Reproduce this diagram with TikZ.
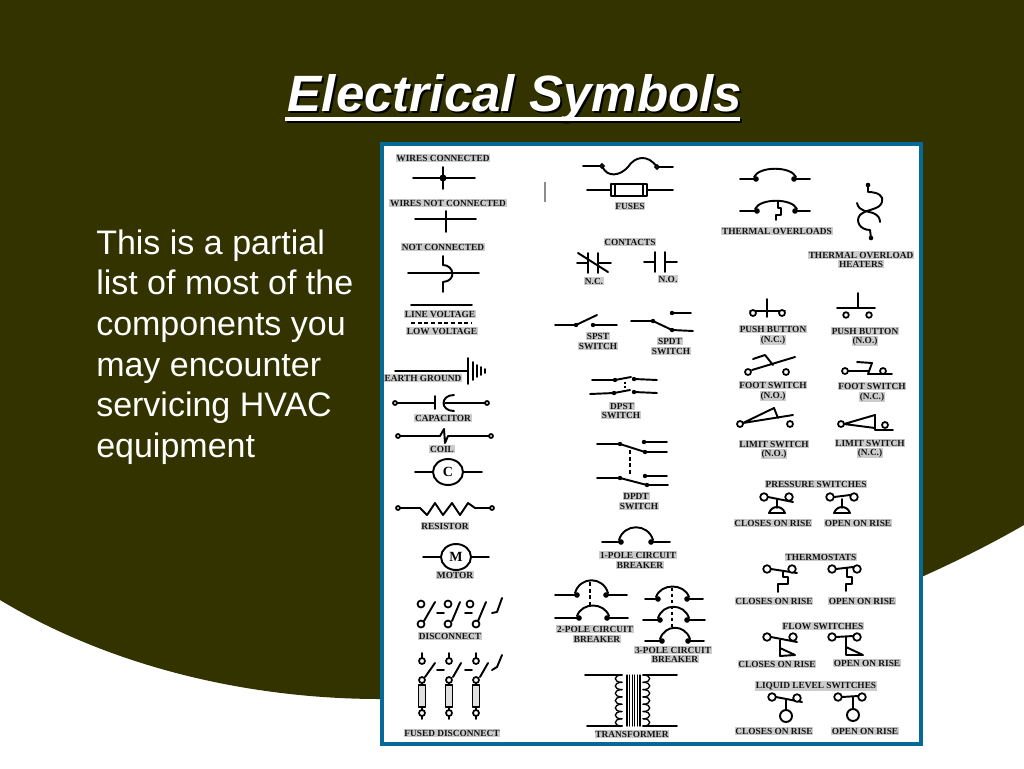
\documentclass[tikz,border=0pt]{standalone}
\usepackage{fontspec}
\setmainfont{Liberation Serif}
\newfontfamily\slidefont{Liberation Sans}
\usepackage{tikz}
\definecolor{slidebg}{HTML}{333300}
\definecolor{panelblue}{HTML}{066A98}
\tikzset{
  lab/.style={font=\bfseries\fontsize{7}{7}\selectfont,fill=black!20,inner sep=0.6pt,text=black!92},
  wire/.style={line width=1.45pt,line cap=round,line join=round},
  fine/.style={line width=1pt,line cap=round,line join=round},
  term/.style={line width=1.3pt,fill=white},
  dashwire/.style={line width=1.6pt,dashed,dash pattern=on 3pt off 2pt},
  bigletter/.style={font=\bfseries\fontsize{10.5}{10.5}\selectfont,inner sep=0pt},
}
\begin{document}
\begin{tikzpicture}[x=0.75pt,y=-0.75pt]
    \useasboundingbox (0,0) rectangle (1024,768);
    \fill[white] (0,0) rectangle (1024,768);
    \fill[slidebg] (0,0) -- (0,600) .. controls (120,672) and (260,699) .. (380,699)
      .. controls (600,699) and (850,625) .. (1024,525) -- (1024,0) -- cycle;
    % title and text
    \node[anchor=base,text=black,font=\slidefont\bfseries\itshape\fontsize{38.3}{38.3}\selectfont,inner sep=0pt]
      (titleshadow) at (517,113) {Electrical Symbols};
    \node[anchor=base,text=white,font=\slidefont\bfseries\itshape\fontsize{38.3}{38.3}\selectfont,inner sep=0pt]
      (title) at (515,111) {Electrical Symbols};
    \fill[black] (287,119) rectangle (742,123);
    \fill[white] (285,117) rectangle (740,121);
    \node[anchor=north west,align=left,text=white,inner sep=0pt,
      font=\slidefont\fontsize{25.5}{30.4}\selectfont] (intro) at (96,229.5)
      {This is a partial\\list of most of the\\components you\\may encounter\\servicing HVAC\\equipment};
    % panel
    \draw[panelblue,fill=white,line width=3pt] (382,144) rectangle (921,744);
    \draw[black!45,line width=0.8pt] (545,182) -- (545,202);
    % left column
    \node[lab] (wirescon) at (443,158) {WIRES CONNECTED};
    \draw[wire] (413,178) -- (475,178) (443,167) -- (443,189);
    \fill (443,178) circle (3.5);
    \node[lab] (wiresnot) at (448,203) {WIRES NOT CONNECTED};
    \draw[wire] (415,219) -- (476,219) (446,211) -- (446,232);
    \node[lab] (notcon) at (443,247) {NOT CONNECTED};
    \draw[wire] (408,273) -- (479,273);
    \draw[wire] (443,256) -- (443,265) .. controls (454,265) and (457,281) .. (443,282) -- (443,292);
    \draw[wire] (411,305) -- (472,305);
    \node[lab] (linevolt) at (440,314) {LINE VOLTAGE};
    \draw[dashwire] (411,323) -- (472,323);
    \node[lab] (lowvolt) at (442,331) {LOW VOLTAGE};
    \draw[wire] (395,371) -- (468,371);
    \foreach \xg/\yg in {468/13,473/9,477/6,481/4,485/2}
      \draw[wire] (\xg,371-\yg) -- (\xg,371+\yg);
    \node[lab] (earth) at (423,378) {EARTH GROUND};
    \draw[wire] (397,403) -- (435,403) (435,396) -- (435,409) (445,403) -- (485,403);
    \draw[wire] (454,395) .. controls (440,395) and (440,411) .. (454,411);
    \draw[term] (395,403) circle (2) (487,403) circle (2);
    \node[lab] (capacitor) at (443,418) {CAPACITOR};
    \draw[wire] (400,436) -- (440,436) -- (444,429) -- (445,443) -- (448,436) -- (489,436);
    \draw[term] (398,436) circle (2) (491,436) circle (2);
    \node[lab] (coil) at (442,449) {COIL};
    \draw[wire] (415,472) -- (433,472) (463,472) -- (482,472);
    \draw[wire] (448,472) ellipse (15 and 13);
    \node[bigletter] (cmark) at (448,472) {C};
    \draw[wire] (400,508) -- (420,508) -- (427,515) -- (435,503) -- (443,515) -- (452,503) -- (460,515) -- (468,503) -- (475,508) -- (490,508);
    \draw[term] (398,508) circle (2) (492,508) circle (2);
    \node[lab] (resistor) at (445,526) {RESISTOR};
    \draw[wire] (423,557) -- (441,557) (471,557) -- (489,557);
    \draw[wire] (456,557) ellipse (15 and 13);
    \node[bigletter] (mmark) at (456,557) {M};
    \node[lab] (motor) at (455,575) {MOTOR};
    % disconnect
    \foreach \xt/\xb/\xs/\xe in {421/421/424/435,448/448/452/460,470/476/478/486} {
      \draw[term] (\xt,604) circle (3.5) (\xb,624) circle (3.5);
      \draw[wire] (\xs,621) -- (\xe,602);
    }
    \draw[wire] (437,613) -- (444,613) (465,613) -- (472,613) (492,613) -- (497,612) -- (502,598);
    \node[lab] (disconnect) at (450,636) {DISCONNECT};
    % fused disconnect
    \foreach \xt/\xs/\xe in {422/425/435,449/453/461,476/480/488} {
      \draw[wire] (\xt,653) -- (\xt,658);
      \draw[term] (\xt,661) circle (3) (\xt,680) circle (3);
      \draw[wire] (\xs,677) -- (\xe,663);
      \draw[wire] (\xt,683) -- (\xt,685);
      \draw[fine,fill=black!12] (\xt-3.5,685) rectangle (\xt+3.5,707);
      \draw[wire] (\xt,707) -- (\xt,710);
      \draw[term] (\xt,713) circle (3);
      \draw[wire] (\xt,716) -- (\xt,719);
    }
    \draw[wire] (437,670) -- (444,670) (465,670) -- (472,670) (492,670) -- (497,667) -- (502,655);
    \node[lab] (fused) at (452,733) {FUSED DISCONNECT};
    % middle column
    \draw[wire] (583,166) -- (600,166) (659,167) -- (673,167);
    \draw[wire] (602,166) .. controls (607,178) and (620,176) .. (628,167) .. controls (635,156) and (648,154) .. (657,167);
    \draw[term] (602,166) circle (1.8) (657,167) circle (1.8);
    \draw[wire] (587,190) -- (611,190) (647,190) -- (673,190);
    \draw[wire] (611,184) rectangle (647,196) (615,184) -- (615,196) (643,184) -- (643,196);
    \node[lab] (fuses) at (630,206) {FUSES};
    \node[lab] (contacts) at (630,242) {CONTACTS};
    \draw[wire] (577,263) -- (588,263) (598,263) -- (611,263) (588,253) -- (588,273) (598,253) -- (598,273) (578,253) -- (608,272);
    \node[lab] (nclosed) at (594,281) {N.C.};
    \draw[wire] (644,262) -- (655,262) (665,262) -- (677,262) (655,252) -- (655,272) (665,252) -- (665,272);
    \node[lab] (nopen) at (668,279) {N.O.};
    % spst, spdt
    \draw[wire] (555,325) -- (576,325) -- (597,315) (593,325) -- (617,325);
    \fill (576,325) circle (2.2) (593,325) circle (2.2);
    \node[lab] (spst) at (598,336) {SPST};
    \node[lab] (spstb) at (598,346) {SWITCH};
    \draw[wire] (631,321) -- (653,321) -- (672,330) -- (693,331) (672,313) -- (691,313);
    \fill (653,321) circle (2.2) (672,313) circle (2.2) (672,330) circle (2.2);
    \node[lab] (spdt) at (670,341) {SPDT};
    \node[lab] (spdtb) at (671,351) {SWITCH};
    % dpst
    \draw[wire] (592,380) -- (615,380) -- (631,377) (634,379) -- (657,380);
    \draw[wire] (590,394) -- (614,393) -- (630,390) (634,392) -- (657,393);
    \fill (615,380) circle (2.2) (634,379) circle (2.2) (614,393) circle (2.2) (634,392) circle (2.2);
    \draw[line width=1pt,dashed,dash pattern=on 1.5pt off 1.5pt] (625,382) -- (625,390);
    \node[lab] (dpst) at (622,406) {DPST};
    \node[lab] (dpstb) at (621,415) {SWITCH};
    % dpdt
    \draw[wire] (597,444) -- (620,444) -- (645,452) -- (667,452) (644,442) -- (667,442);
    \draw[wire] (597,478) -- (620,478) -- (647,485) -- (668,485) (645,476) -- (667,476);
    \fill (620,444) circle (2.2) (644,442) circle (2.2) (645,452) circle (2.2) (620,478) circle (2.2) (645,476) circle (2.2) (647,485) circle (2.2);
    \draw[dashwire] (630,450) -- (630,475);
    \node[lab] (dpdt) at (636,496) {DPDT};
    \node[lab] (dpdtb) at (639,506) {SWITCH};
    % breakers and overloads
    \foreach \xa/\xb/\xc/\xd/\yw/\yc in {
      602/621/651/670/542/523,
      555/577/606/627/595/576,
      555/579/607/628/618/602,
      645/658/687/703/599/583,
      643/660/687/705/620/603,
      645/662/688/704/641/624,
      740/756/794/810/179/166,
      740/757/795/810/211/198} {
      \draw[wire] (\xa,\yw) -- (\xb,\yw) (\xc,\yw) -- (\xd,\yw);
      \fill (\xb,\yw) circle (2.8) (\xc,\yw) circle (2.8);
      \draw[wire] (\xb-2,\yw-2) .. controls (\xb+3,\yc) and (\xc-3,\yc) .. (\xc+2,\yw-2);
    }
    \draw[dashwire] (590,582) -- (590,605);
    \draw[dashwire,dash pattern=on 2.5pt off 2pt] (672,588) -- (672,627);
    \node[lab] (onepole) at (638,555) {1-POLE CIRCUIT};
    \node[lab] (onepoleb) at (640,565) {BREAKER};
    \node[lab] (twopole) at (595,629) {2-POLE CIRCUIT};
    \node[lab] (twopoleb) at (597,639) {BREAKER};
    \node[lab] (threepole) at (673,650) {3-POLE CIRCUIT};
    \node[lab] (threepoleb) at (675,659) {BREAKER};
    % transformer
    \draw[wire] (585,675) -- (622,675) (587,726) -- (622,726) (643,675) -- (677,675) (643,726) -- (677,726);
    \foreach \yy in {675,682.3,689.6,696.9,704.2,711.5,718.8}
      \draw[fine] (622,\yy) .. controls (613,\yy) and (613,\yy+7.3) .. (622,\yy+7.3)
        (643,\yy) .. controls (652,\yy) and (652,\yy+7.3) .. (643,\yy+7.3);
    \foreach \xx in {627,629.6,632.2,634.8,637.4,640}
      \draw[fine] (\xx,675) -- (\xx,726);
    \node[lab] (transformer) at (632,734) {TRANSFORMER};
    % right column
    \draw[wire] (778,201) -- (778,208) -- (781,208) -- (781,215) -- (776,215) -- (776,220);
    \node[lab] (overloads) at (777,231) {THERMAL OVERLOADS};
    \fill (868,185) circle (2.3) (871,238) circle (2.3);
    \draw[wire] (868,185) -- (868,192) .. controls (878,192) and (884,196) .. (882,202)
      .. controls (880,210) and (866,209) .. (860,215) .. controls (855,221) and (860,230) .. (870,230) -- (871,238);
    \draw[wire] (857,203) .. controls (859,212) and (868,211) .. (873,213) .. controls (878,215) and (880,218) .. (880,222);
    \node[lab] (heaters) at (861,255) {THERMAL OVERLOAD};
    \node[lab] (heatersb) at (861,264) {HEATERS};
    % push buttons
    \draw[wire] (750,311) -- (785,311) (767,299) -- (767,317);
    \draw[term] (753,313) circle (3) (782,313) circle (3);
    \node[lab] (pushnc) at (773,329) {PUSH BUTTON};
    \node[lab] (pushncb) at (773,340) {(N.C.)};
    \draw[wire] (837,308) -- (875,308) (858,293) -- (858,308);
    \draw[term] (846,315) circle (2.8) (869,315) circle (2.8);
    \node[lab] (pushno) at (865,331) {PUSH BUTTON};
    \node[lab] (pushnob) at (865,341) {(N.O.)};
    % foot switches
    \draw[wire] (752,370) -- (795,357) (753,359) -- (765,355) -- (773,365);
    \draw[term] (748,372) circle (3) (786,372) circle (3);
    \node[lab] (footno) at (773,385) {FOOT SWITCH};
    \node[lab] (footnob) at (773,396) {(N.O.)};
    \draw[wire] (848,371) -- (868,371) (857,362) -- (872,363) -- (868,374) -- (892,374);
    \draw[term] (845,371) circle (3) (883,371) circle (3);
    \node[lab] (footnc) at (872,386) {FOOT SWITCH};
    \node[lab] (footncb) at (872,397) {(N.C.)};
    % limit switches
    \draw[wire] (743,423) -- (793,415) (743,423) -- (774,408) -- (778,418);
    \draw[term] (740,424) circle (3) (790,424) circle (3);
    \node[lab] (limitno) at (774,444) {LIMIT SWITCH};
    \node[lab] (limitnob) at (774,454) {(N.O.)};
    \draw[wire] (844,424) -- (875,415) -- (875,430) -- (893,430) (844,424) -- (875,428);
    \draw[term] (841,424) circle (3) (885,425) circle (3);
    \node[lab] (limitnc) at (870,443) {LIMIT SWITCH};
    \node[lab] (limitncb) at (870,453) {(N.C.)};
    % pressure, thermostats, flow, liquid level
    \node[lab] (pressure) at (816,484) {PRESSURE SWITCHES};
    \node[lab] (thermostats) at (821,557) {THERMOSTATS};
    \node[lab] (flow) at (823,626) {FLOW SWITCHES};
    \node[lab] (liquid) at (816,686) {LIQUID LEVEL SWITCHES};
    \foreach \xa/\xb/\yy/\yr/\xe/\ye in {
      764/789/497/497/793/502,
      830/854/497/497/850/495,
      767/792/569/569/797/573,
      832/857/569/569/853/567,
      767/793/637/637/797/642,
      832/857/637/637/853/636,
      772/797/697/698/802/702,
      838/862/697/697/858/696} {
      \draw[wire] (\xa+4,\yy) -- (\xe,\ye);
      \draw[term] (\xa,\yy) circle (3.8) (\xb,\yr) circle (3.8);
    }
    \foreach \xs in {777,842}
      \draw[wire] (\xs,499) -- (\xs,508) (\xs-8,513) .. controls (\xs-5,505) and (\xs+5,505) .. (\xs+8,513) -- cycle;
    \draw[wire] (783,572) -- (783,577) -- (788,577) -- (788,584) -- (778,584) -- (778,592);
    \draw[wire] (847,568) -- (847,577) -- (852,577) -- (852,584) -- (846,584) -- (846,591);
    \draw[wire] (780,640) -- (780,656) -- (795,655) -- (780,648);
    \draw[wire] (846,637) -- (846,655) -- (863,655) -- (846,647);
    \draw[wire] (786,699) -- (786,710) (786,716) circle (6);
    \draw[wire] (853,697) -- (853,709) (853,715) circle (6);
    \foreach \xc/\yc/\nm in {773/523/cpa,774/601/cpb,777/664/cpc,774/731/cpd}
      \node[lab] (\nm) at (\xc,\yc) {CLOSES ON RISE};
    \foreach \xc/\yc/\nm in {858/523/opa,862/601/opb,867/663/opc,865/731/opd}
      \node[lab] (\nm) at (\xc,\yc) {OPEN ON RISE};
\end{tikzpicture}
\end{document}
